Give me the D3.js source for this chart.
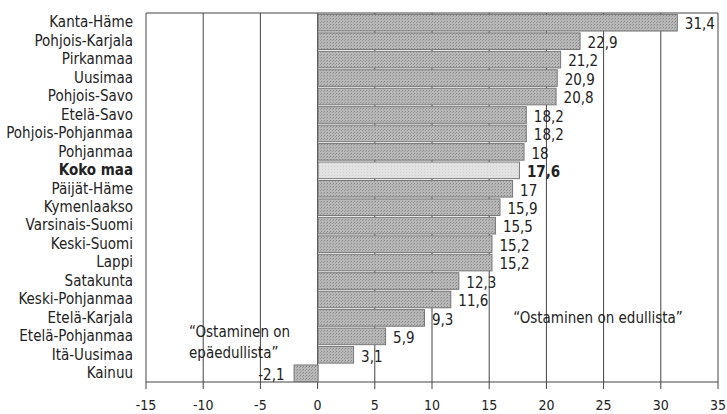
<!DOCTYPE html>
<html><head><meta charset="utf-8">
<script src="https://cdn.jsdelivr.net/npm/d3@7"></script>
<style>
body{margin:0;background:#fff;}
text{font-family:"Liberation Sans Narrow","DejaVu Sans Condensed","Open Sans",sans-serif;fill:#222;}
</style></head>
<body><svg id="c" width="727" height="414"></svg>
<script>
const regions = ["Kanta-Häme","Pohjois-Karjala","Pirkanmaa","Uusimaa","Pohjois-Savo","Etelä-Savo","Pohjois-Pohjanmaa","Pohjanmaa","Koko maa","Päijät-Häme","Kymenlaakso","Varsinais-Suomi","Keski-Suomi","Lappi","Satakunta","Keski-Pohjanmaa","Etelä-Karjala","Etelä-Pohjanmaa","Itä-Uusimaa","Kainuu"];
const values = [31.4,22.9,21.2,20.9,20.8,18.2,18.2,18,17.6,17,15.9,15.5,15.2,15.2,12.3,11.6,9.3,5.9,3.1,-2.1];
const xTicks = [-15,-10,-5,0,5,10,15,20,25,30,35];
const highlight = "Koko maa";
const annotRight = ["\u201cOstaminen on edullista\u201d"];
const annotLeft = ["\u201cOstaminen on","epäedullista\u201d"];

const svg = d3.select("#c");
const L=146, R=718, T=13, B=382;
const x = d3.scaleLinear().domain([-15,35]).range([L,R]);
const y = d3.scaleBand().domain(regions).range([T,B]).paddingInner(0.1).paddingOuter(0.05);
const fmt = v => String(v).replace(".",",");
const FS = 15;

const defs = svg.append("defs");
const p = defs.append("pattern").attr("id","tex").attr("width",3).attr("height",3).attr("patternUnits","userSpaceOnUse");
p.append("rect").attr("width",3).attr("height",3).attr("fill","#b8b8b8");
p.append("rect").attr("x",0).attr("y",0).attr("width",1).attr("height",1).attr("fill","#888");
p.append("rect").attr("x",2).attr("y",1).attr("width",1).attr("height",1).attr("fill","#999");
const p2 = defs.append("pattern").attr("id","tex2").attr("width",3).attr("height",3).attr("patternUnits","userSpaceOnUse");
p2.append("rect").attr("width",3).attr("height",3).attr("fill","#e2e2e2");
p2.append("rect").attr("x",1).attr("y",1).attr("width",1).attr("height",1).attr("fill","#cfcfcf");

svg.append("g").selectAll("line").data(xTicks).join("line")
  .attr("x1",d=>x(d)).attr("x2",d=>x(d)).attr("y1",T).attr("y2",B+7)
  .attr("stroke","#444").attr("stroke-width",1);
svg.append("line").attr("x1",L).attr("x2",R).attr("y1",T).attr("y2",T).attr("stroke","#444");
svg.append("line").attr("x1",L).attr("x2",R).attr("y1",B).attr("y2",B).attr("stroke","#444").attr("stroke-width",1.2);

svg.append("g").selectAll("rect").data(regions).join("rect")
  .attr("x",(d,i)=>x(Math.min(0,values[i]))+0.5)
  .attr("y",d=>y(d)+0.5)
  .attr("width",(d,i)=>Math.abs(x(values[i])-x(0)))
  .attr("height",y.bandwidth())
  .attr("fill",d=>d===highlight?"url(#tex2)":"url(#tex)")
  .attr("stroke","#777").attr("stroke-width",1);

svg.append("g").selectAll("text").data(regions).join("text")
  .attr("x",133).attr("y",d=>y(d)+y.bandwidth()/2).attr("dy","0.35em")
  .attr("text-anchor","end").attr("font-size",FS)
  .attr("font-weight",d=>d===highlight?"bold":"normal")
  .text(d=>d);

svg.append("g").selectAll("text").data(regions).join("text")
  .attr("x",(d,i)=>values[i]>=0? x(values[i])+8 : x(values[i])-9)
  .attr("y",d=>y(d)+y.bandwidth()/2+2).attr("dy","0.35em")
  .attr("text-anchor",(d,i)=>values[i]>=0?"start":"end").attr("font-size",FS)
  .attr("font-weight",d=>d===highlight?"bold":"normal")
  .text((d,i)=>fmt(values[i]));

svg.append("g").selectAll("text").data(xTicks).join("text")
  .attr("x",d=>x(d)).attr("y",409.5).attr("text-anchor","middle")
  .attr("font-size",14).text(d=>d);

svg.append("text").attr("x",598).attr("y",318).attr("dy","0.35em").attr("text-anchor","middle")
  .attr("font-size",FS).text(annotRight[0]);
svg.append("g").selectAll("text").data(annotLeft).join("text")
  .attr("x",189).attr("y",(d,i)=>332+i*21).attr("dy","0.35em").attr("font-size",FS).text(d=>d);
</script></body></html>
